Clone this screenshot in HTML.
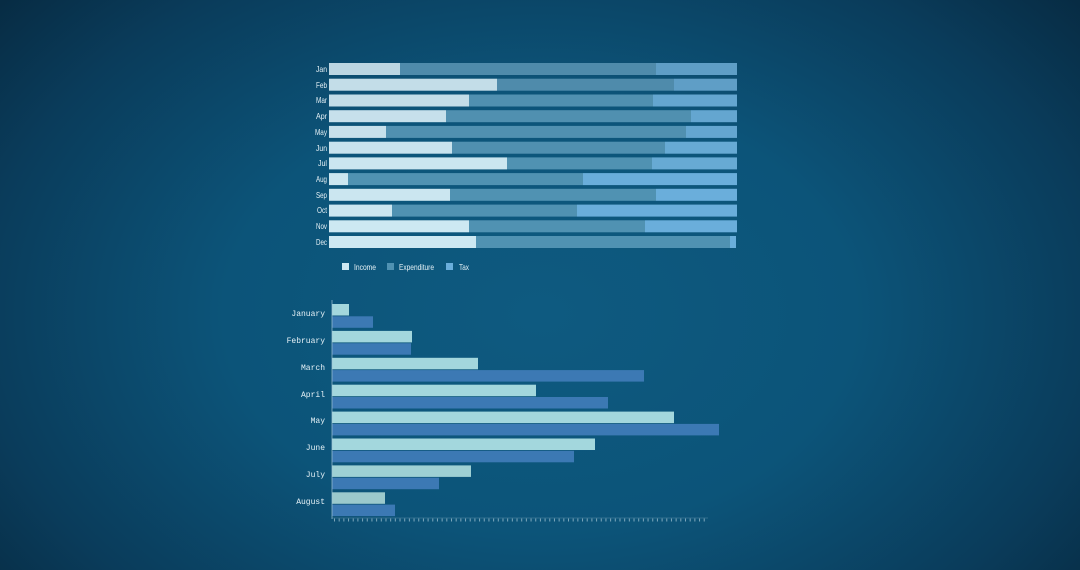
<!DOCTYPE html>
<html><head><meta charset="utf-8"><style>
html,body{margin:0;padding:0;width:1080px;height:570px;overflow:hidden}
body{background:radial-gradient(ellipse 65% 85% at 50% 55%,#0e5a80 0%,#0c5479 45%,#0a3c5b 80%,#072c44 100%)}
svg{position:absolute;left:0;top:0}
text{font-family:"Liberation Mono",monospace;fill:#e6f2f7}
.n{font-family:"Liberation Sans",sans-serif}
</style></head><body>
<svg width="1080" height="570" viewBox="0 0 1080 570">
<g font-size="8.5" text-anchor="end" class="n" lengthAdjust="spacingAndGlyphs">
<text class="n" x="327" y="72" textLength="11" lengthAdjust="spacingAndGlyphs">Jan</text>
<text class="n" x="327" y="88" textLength="11" lengthAdjust="spacingAndGlyphs">Feb</text>
<text class="n" x="327" y="103" textLength="11" lengthAdjust="spacingAndGlyphs">Mar</text>
<text class="n" x="327" y="119" textLength="11" lengthAdjust="spacingAndGlyphs">Apr</text>
<text class="n" x="327" y="135" textLength="12" lengthAdjust="spacingAndGlyphs">May</text>
<text class="n" x="327" y="151" textLength="11" lengthAdjust="spacingAndGlyphs">Jun</text>
<text class="n" x="327" y="166" textLength="9" lengthAdjust="spacingAndGlyphs">Jul</text>
<text class="n" x="327" y="182" textLength="11" lengthAdjust="spacingAndGlyphs">Aug</text>
<text class="n" x="327" y="198" textLength="11" lengthAdjust="spacingAndGlyphs">Sep</text>
<text class="n" x="327" y="213" textLength="10" lengthAdjust="spacingAndGlyphs">Oct</text>
<text class="n" x="327" y="229" textLength="11" lengthAdjust="spacingAndGlyphs">Nov</text>
<text class="n" x="327" y="245" textLength="11" lengthAdjust="spacingAndGlyphs">Dec</text>
</g>
<g>
<rect x="329" y="63" width="71" height="12" fill="#bcd6e2"/><rect x="400" y="63" width="256" height="12" fill="#4f8bab"/><rect x="656" y="63" width="81" height="12" fill="#5f9ec6"/>
<rect x="329" y="78.7" width="168" height="12" fill="#c3dde8"/><rect x="497" y="78.7" width="177" height="12" fill="#4f8bab"/><rect x="674" y="78.7" width="63" height="12" fill="#5f9ec6"/>
<rect x="329" y="94.5" width="140" height="12" fill="#c3dde8"/><rect x="469" y="94.5" width="184" height="12" fill="#5090b0"/><rect x="653" y="94.5" width="84" height="12" fill="#64a6d0"/>
<rect x="329" y="110.2" width="117" height="12" fill="#c6e0eb"/><rect x="446" y="110.2" width="245" height="12" fill="#5090b0"/><rect x="691" y="110.2" width="46" height="12" fill="#64a6d0"/>
<rect x="329" y="125.9" width="57" height="12" fill="#c6e0eb"/><rect x="386" y="125.9" width="300" height="12" fill="#5090b0"/><rect x="686" y="125.9" width="51" height="12" fill="#64a6d0"/>
<rect x="329" y="141.7" width="123" height="12" fill="#c8e3ee"/><rect x="452" y="141.7" width="213" height="12" fill="#5090b0"/><rect x="665" y="141.7" width="72" height="12" fill="#67aad4"/>
<rect x="329" y="157.4" width="178" height="12" fill="#cbe6f0"/><rect x="507" y="157.4" width="145" height="12" fill="#5092b2"/><rect x="652" y="157.4" width="85" height="12" fill="#67aad4"/>
<rect x="329" y="173.1" width="19" height="12" fill="#cbe6f0"/><rect x="348" y="173.1" width="235" height="12" fill="#5092b2"/><rect x="583" y="173.1" width="154" height="12" fill="#6aaedb"/>
<rect x="329" y="188.8" width="121" height="12" fill="#cbe6f0"/><rect x="450" y="188.8" width="206" height="12" fill="#5092b2"/><rect x="656" y="188.8" width="81" height="12" fill="#6aaedb"/>
<rect x="329" y="204.6" width="63" height="12" fill="#cbe6f0"/><rect x="392" y="204.6" width="185" height="12" fill="#5092b2"/><rect x="577" y="204.6" width="160" height="12" fill="#6aaedb"/>
<rect x="329" y="220.3" width="140" height="12" fill="#cde8f2"/><rect x="469" y="220.3" width="176" height="12" fill="#5092b2"/><rect x="645" y="220.3" width="92" height="12" fill="#6aaedb"/>
<rect x="329" y="236" width="147" height="12" fill="#cde8f2"/><rect x="476" y="236" width="254" height="12" fill="#5092b2"/><rect x="730" y="236" width="6" height="12" fill="#6aaedb"/>
</g>
<g font-size="8.5">
<rect x="342" y="263" width="7" height="7" fill="#cde8f2"/><text class="n" x="354" y="270" textLength="22" lengthAdjust="spacingAndGlyphs">Income</text>
<rect x="387" y="263" width="7" height="7" fill="#5092b2"/><text class="n" x="399" y="270" textLength="35" lengthAdjust="spacingAndGlyphs">Expenditure</text>
<rect x="446" y="263" width="7" height="7" fill="#6aaedb"/><text class="n" x="459" y="270" textLength="10" lengthAdjust="spacingAndGlyphs">Tax</text>
</g>
<g font-size="8" text-anchor="end">
<text x="325" y="316">January</text><text x="325" y="343">February</text><text x="325" y="370">March</text><text x="325" y="397">April</text><text x="325" y="423">May</text><text x="325" y="450">June</text><text x="325" y="477">July</text><text x="325" y="504">August</text>
</g>
<g>
<rect x="332" y="304" width="17" height="11.5" fill="#a3d7dd"/><rect x="332" y="316.3" width="41" height="11.5" fill="#3c79b4"/>
<rect x="332" y="330.9" width="80" height="11.5" fill="#a3d7dd"/><rect x="332" y="343.2" width="79" height="11.5" fill="#3c79b4"/>
<rect x="332" y="357.8" width="146" height="11.5" fill="#a3d7dd"/><rect x="332" y="370.1" width="312" height="11.5" fill="#3c79b4"/>
<rect x="332" y="384.7" width="204" height="11.5" fill="#a3d7dd"/><rect x="332" y="397" width="276" height="11.5" fill="#3c79b4"/>
<rect x="332" y="411.6" width="342" height="11.5" fill="#a3d7dd"/><rect x="332" y="423.9" width="387" height="11.5" fill="#3c79b4"/>
<rect x="332" y="438.5" width="263" height="11.5" fill="#a3d7dd"/><rect x="332" y="450.8" width="242" height="11.5" fill="#3c79b4"/>
<rect x="332" y="465.4" width="139" height="11.5" fill="#9ed0d4"/><rect x="332" y="477.7" width="107" height="11.5" fill="#3c79b4"/>
<rect x="332" y="492.3" width="53" height="11.5" fill="#9bc9cc"/><rect x="332" y="504.6" width="63" height="11.5" fill="#3c79b4"/>
</g>
<line x1="332" y1="300" x2="332" y2="519" stroke="#9fc4d6" stroke-width="1" opacity="0.7"/>
<line x1="332" y1="518" x2="708" y2="518" stroke="#9fc4d6" stroke-width="0.6" opacity="0.5"/>
<line x1="334" y1="520" x2="708" y2="520" stroke="#c9e0ea" stroke-width="3" stroke-dasharray="1 3.68" opacity="0.6"/>
</svg>
</body></html>
